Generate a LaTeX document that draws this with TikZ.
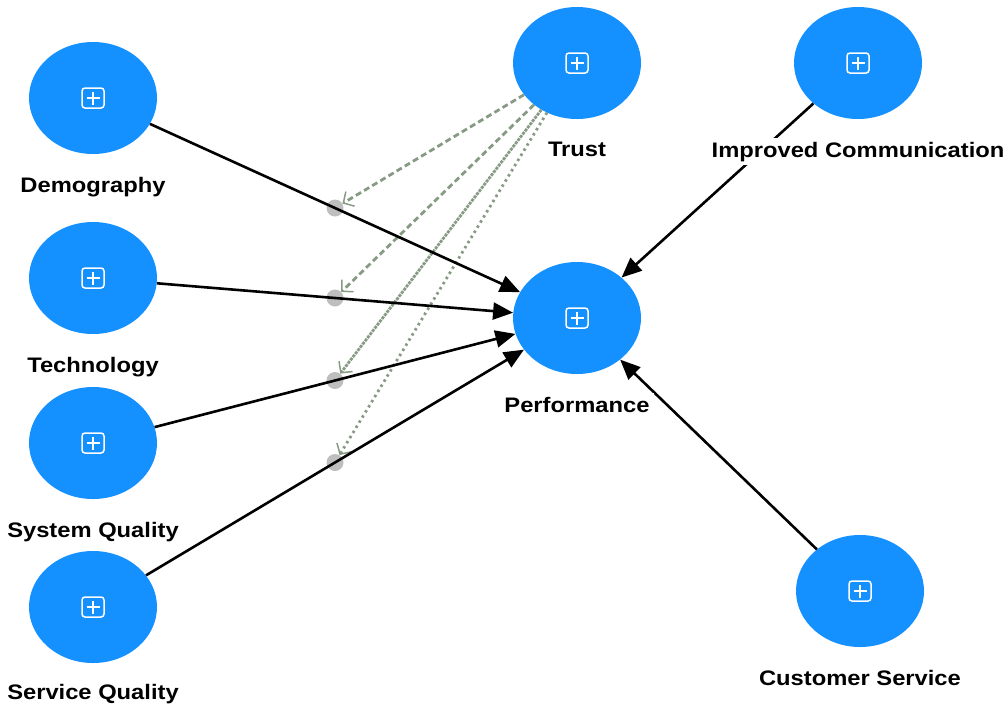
\documentclass[tikz,border=0pt]{standalone}
\usepackage{fontspec}
\setmainfont{Liberation Sans}
\usetikzlibrary{shapes.geometric, arrows.meta, positioning, calc}

\definecolor{latentblue}{RGB}{20,144,255}
\definecolor{modgreen}{RGB}{135,155,132}
\definecolor{dotgray}{RGB}{190,190,190}

\begin{document}
\begin{tikzpicture}[x=1pt,y=-1pt,
  latent/.style={ellipse, fill=latentblue, minimum width=128pt, minimum height=112pt, inner sep=0pt,
    path picture={
      \draw[white, line width=1.5pt, rounded corners=3pt]
        (path picture bounding box.center) ++(-11pt,-10pt) rectangle ++(22pt,20pt);
      \draw[white, line width=1.5pt]
        (path picture bounding box.center) ++(-6.5pt,0pt) -- ++(13pt,0pt)
        (path picture bounding box.center) ++(0pt,-6.5pt) -- ++(0pt,13pt);}},
  lbl/.style={font=\fontsize{21}{24}\selectfont\bfseries, fill=white, inner sep=4pt, xscale=1.13},
  effect/.style={draw, line width=2.6pt, -{Triangle[length=20pt,width=17pt]}},
  modline/.style={draw=modgreen, line width=2.8pt, -{Straight Barb[length=8pt,width=17pt,line width=1.5pt]}},
  mdot/.style={circle, fill=dotgray, minimum size=17pt, inner sep=0pt}]

  \useasboundingbox (0,0) rectangle (1008,705);

  % latent variables
  \node[latent] (demo) at (93,98) {};
  \node[latent] (tech) at (93,278) {};
  \node[latent] (sysq) at (93,443) {};
  \node[latent] (servq) at (93,607) {};
  \node[latent] (trust) at (577,63) {};
  \node[latent] (impr) at (858,63) {};
  \node[latent] (perf) at (577,318) {};
  \node[latent] (cust) at (860,591) {};

  % moderating effects of Trust
  \foreach \src/\m in {demo/m1, tech/m2, sysq/m3, servq/m4}
    \node[mdot] (\m) at ($(\src)!0.5!(perf)$) {};

  \draw[modline, dash pattern=on 6pt off 3.5pt] (trust) -- (m1);
  \draw[modline, dash pattern=on 6pt off 3.5pt] (trust) -- (m2);
  \draw[modline, dash pattern=on 3pt off 1pt] (trust) -- (m3);
  \draw[modline, dash pattern=on 2.5pt off 3.5pt] (trust) -- (m4);

  % direct effects
  \foreach \src in {demo, tech, sysq, servq, impr, cust}
    \draw[effect] (\src) -- (perf);

  % labels
  \node[lbl, below=18.5pt of demo] (demolbl) {Demography};
  \node[lbl, below=18.5pt of tech] (techlbl) {Technology};
  \node[lbl, below=18.5pt of sysq] (sysqlbl) {System Quality};
  \node[lbl, below=17pt of servq] (servqlbl) {Service Quality};
  \node[lbl, below=18.5pt of trust] (trustlbl) {Trust};
  \node[lbl, below=18.5pt of impr] (imprlbl) {Improved Communication};
  \node[lbl, below=18.5pt of perf] (perflbl) {Performance};
  \node[lbl, below=18.5pt of cust] (custlbl) {Customer Service};
\end{tikzpicture}
\end{document}
